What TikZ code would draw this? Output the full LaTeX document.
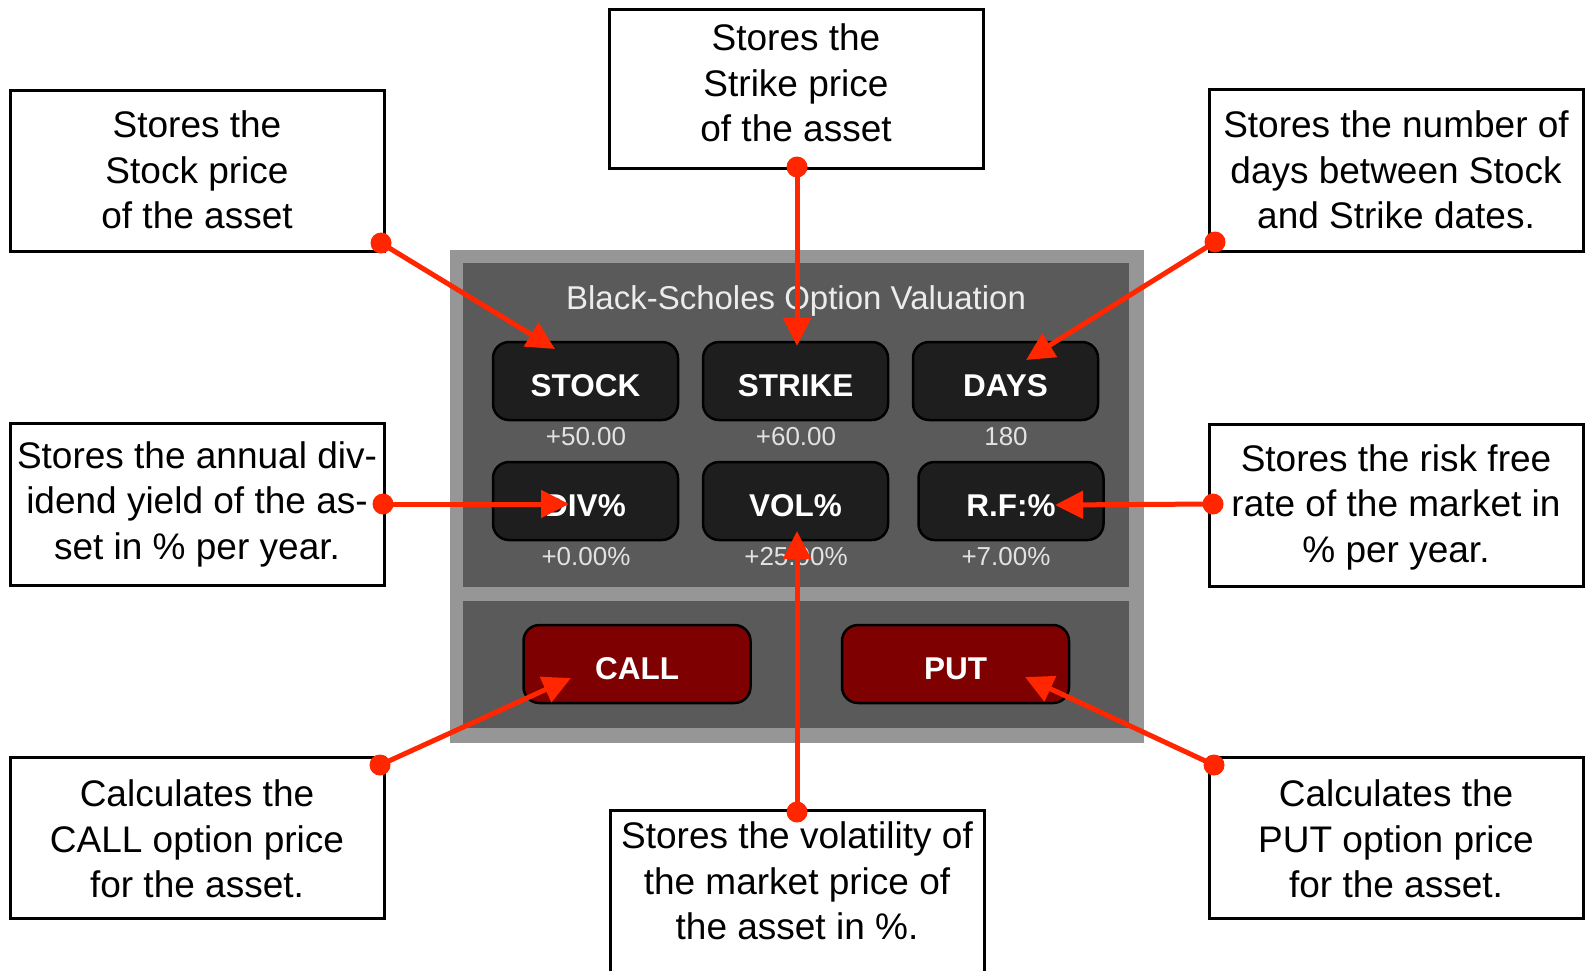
\documentclass[tikz,border=0pt]{standalone}
\usepackage{fontspec}
\setmainfont{Liberation Sans}
\usetikzlibrary{arrows.meta,calc}
\definecolor{arrred}{RGB}{255,38,0}
\definecolor{panelout}{RGB}{150,150,150}
\definecolor{panelin}{RGB}{90,90,90}
\definecolor{btnfill}{RGB}{30,30,30}
\definecolor{redbtn}{RGB}{127,0,0}
\definecolor{titlecol}{RGB}{236,236,236}
\definecolor{valcol}{RGB}{226,226,226}
\begin{document}
\begin{tikzpicture}[x=1pt,y=-1pt,
  callout/.style={draw=black,line width=3pt,fill=white,inner sep=0pt},
  calltext/.style={align=center,font=\fontsize{37}{45.5}\selectfont,inner sep=0pt},
  btn/.style={draw=black,line width=2.5pt,fill=btnfill,rounded corners=16pt,inner sep=0pt,
    minimum width=185pt,minimum height=78pt,text=white,text height=31pt,text depth=0pt,
    font=\fontsize{31.5}{31.5}\selectfont\bfseries},
  redbutton/.style={btn,fill=redbtn,minimum width=227pt},
  valtext/.style={text=valcol,font=\fontsize{26}{26}\selectfont,anchor=base,inner sep=0pt},
  conn/.style={draw=arrred,line width=5pt,-{Triangle[length=28pt,width=27pt]},shorten <=-2pt},
  dotmark/.style={circle,fill=arrred,inner sep=0pt,minimum size=21pt}
]
\clip (0,0) rectangle (1586,970);
\fill[white] (0,0) rectangle (1586,970);

% panel
\fill[panelout] (450,250) rectangle (1144,743);
\fill[panelin] (463,263) rectangle (1129,587);
\fill[panelin] (463,601) rectangle (1129,728);
\node[text=titlecol,font=\fontsize{33}{33}\selectfont,anchor=base,inner sep=0pt] (title) at (796,309) {Black-Scholes Option Valuation};

% buttons
\node[btn] (stock)  at (585.5,381) {STOCK};
\node[btn] (strike) at (795.5,381) {STRIKE};
\node[btn] (days)   at (1005.5,381) {DAYS};
\node[btn] (div)    at (585.5,501) {DIV\%};
\node[btn] (vol)    at (795.5,501) {VOL\%};
\node[btn] (rf)     at (1011,501) {R.F:\%};
\node[valtext] (stockval)  at (586,445) {+50.00};
\node[valtext] (strikeval) at (796,445) {+60.00};
\node[valtext] (daysval)   at (1006,445) {180};
\node[valtext] (divval)    at (586,565) {+0.00\%};
\node[valtext] (volval)    at (796,565) {+25.00\%};
\node[valtext] (rfval)     at (1006,565) {+7.00\%};
\node[redbutton] (call) at (637,664) {CALL};
\node[redbutton] (put)  at (955.5,664) {PUT};

% callout boxes
\node[callout,minimum width=374pt,minimum height=161pt] (tl) at (197,170.5) {};
\node[callout,minimum width=374pt,minimum height=159pt] (tc) at (796,88.5) {};
\node[callout,minimum width=374pt,minimum height=162pt] (tr) at (1396,170) {};
\node[callout,minimum width=374pt,minimum height=162pt] (ml) at (197,504) {};
\node[callout,minimum width=374pt,minimum height=162pt] (mr) at (1396,505) {};
\node[callout,minimum width=374pt,minimum height=161pt] (bl) at (197,837.5) {};
\node[callout,minimum width=374pt,minimum height=170pt] (bc) at (797,895) {};
\node[callout,minimum width=374pt,minimum height=161pt] (br) at (1396,837.5) {};

\node[calltext] (tltxt) at (197,170) {Stores the\\Stock price\\of the asset};
\node[calltext] (tctxt) at (796,83) {Stores the\\Strike price\\of the asset};
\node[calltext] (trtxt) at (1396,170) {Stores the number of\\days between Stock\\and Strike dates.};
\node[calltext] (mltxt) at (197,504) {Stores the annual div-\\idend yield of the as-\\set in \% per year.};
\node[calltext] (mrtxt) at (1396,507) {Stores the risk free\\rate of the market in\\\% per year.};
\node[calltext] (bltxt) at (197,839) {Calculates the\\CALL option price\\for the asset.};
\node[calltext] (bctxt) at (797,881) {Stores the volatility of\\the market price of\\the asset in \%.};
\node[calltext] (brtxt) at (1396,839) {Calculates the\\PUT option price\\for the asset.};

% connector ends
\node[dotmark] (d1) at (381,243) {};
\node[dotmark] (d2) at (797,167) {};
\node[dotmark] (d3) at (1215,242) {};
\node[dotmark] (d4) at (383,504) {};
\node[dotmark] (d5) at (1213,504) {};
\node[dotmark] (d6) at (797,812) {};
\node[dotmark] (d7) at (380,765) {};
\node[dotmark] (d8) at (1214,765) {};
\coordinate (t1) at (555,349);
\coordinate (t2) at (797,346);
\coordinate (t3) at (1026,360);
\coordinate (t4) at (569,504);
\coordinate (t5) at (1055,505);
\coordinate (t6) at (797,531);
\coordinate (t7) at (571,678);
\coordinate (t8) at (1025,677);
\draw[conn] (d1.center) -- (t1);
\draw[conn] (d2.center) -- (t2);
\draw[conn] (d3.center) -- (t3);
\draw[conn] (d4.center) -- (t4);
\draw[conn] (d5.center) -- (t5);
\draw[conn] (d6.center) -- (t6);
\draw[conn] (d7.center) -- (t7);
\draw[conn] (d8.center) -- (t8);
\end{tikzpicture}
\end{document}
